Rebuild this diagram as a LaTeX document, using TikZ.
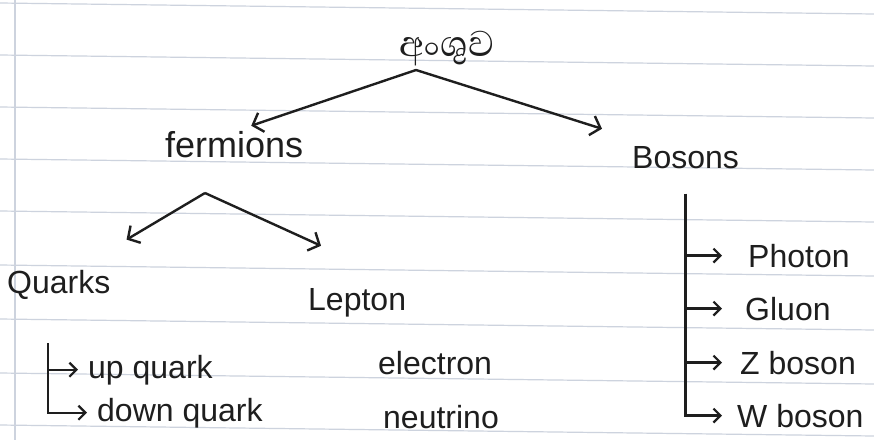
\documentclass[tikz,border=0pt]{standalone}
\usepackage{fontspec}
\setmainfont{Liberation Sans}
\newfontfamily\sinhalafont[Script=Sinhala]{Abhaya Libre}
\usetikzlibrary{arrows.meta, calc}
\definecolor{Ink}   {HTML}{1E1E1E}
\definecolor{Ruling}{HTML}{CDD3DE}
\tikzset{
  ink arrow/.style={-{Straight Barb[length=9pt,width=20pt]}, line width=2.4pt, draw=Ink},
  small arrow/.style={-{Straight Barb[length=7pt,width=14pt]}, line width=2.2pt, draw=Ink},
}

\begin{document}
\begin{tikzpicture}[x=1pt, y=-1pt, font=\fontsize{32}{36}\selectfont,
    word/.style={text=Ink, inner sep=0pt, anchor=base west},
    ruling/.style={draw=Ruling, line width=1.2pt}]
  \useasboundingbox (0,0) rectangle (874,440);
  % Paper
  \fill[white] (0,0) rectangle (874,440);
  \foreach \y in {3,55,107,159,211,265,319,373,425}
    \draw[ruling] (0,\y) -- (874,\y+11);
  \draw[ruling] (15,0) -- (15,440);
  % Words
  \node[word, anchor=base, font=\fontsize{46}{50}\selectfont] (title) at (447,56) {\sinhalafont අංශුව};
  \node[word, font=\fontsize{36}{40}\selectfont] (fermions) at (165,157) {fermions};
  \node[word] (bosons)   at (632,168) {Bosons};
  \node[word] (quarks)   at (7,293)   {Quarks};
  \node[word] (lepton)   at (308,310) {Lepton};
  \node[word] (up)       at (88,378)  {up quark};
  \node[word] (down)     at (97,421)  {down quark};
  \node[word] (electron) at (378,374) {electron};
  \node[word] (neutrino) at (383,428) {neutrino};
  \node[word] (photon)   at (748,267) {Photon};
  \node[word] (gluon)    at (745,320) {Gluon};
  \node[word] (zboson)   at (740,374) {Z boson};
  \node[word] (wboson)   at (737,427) {W boson};
  % Splits
  \coordinate (split)  at (416,70);
  \coordinate (fsplit) at (205,193);
  \coordinate (qtop)   at (48,343);
  \coordinate (btop)   at ([yshift=-25pt]bosons.south);
  \coordinate (tip)    at (722,0);
  % Arrows
  \draw[ink arrow] (split)  -- ([xshift=17pt,yshift=5pt]fermions.north);
  \draw[ink arrow] (split)  -- ([xshift=-30pt,yshift=17pt]bosons.north west);
  \draw[ink arrow] (fsplit) -- ([xshift=16pt,yshift=30pt]quarks.north east);
  \draw[ink arrow] (fsplit) -- ([xshift=13pt,yshift=42pt]lepton.north west);
  \draw[small arrow] (qtop |- up.west) -- ([xshift=-10pt]up.west);
  \draw[small arrow] (qtop) |- ([xshift=-10pt]down.west);
  \foreach \lbl in {photon,gluon,zboson}
    \draw[small arrow] (btop |- \lbl.west) -- (\lbl.west -| tip);
  \draw[small arrow] (btop) |- (wboson.west -| tip);
\end{tikzpicture}
\end{document}
